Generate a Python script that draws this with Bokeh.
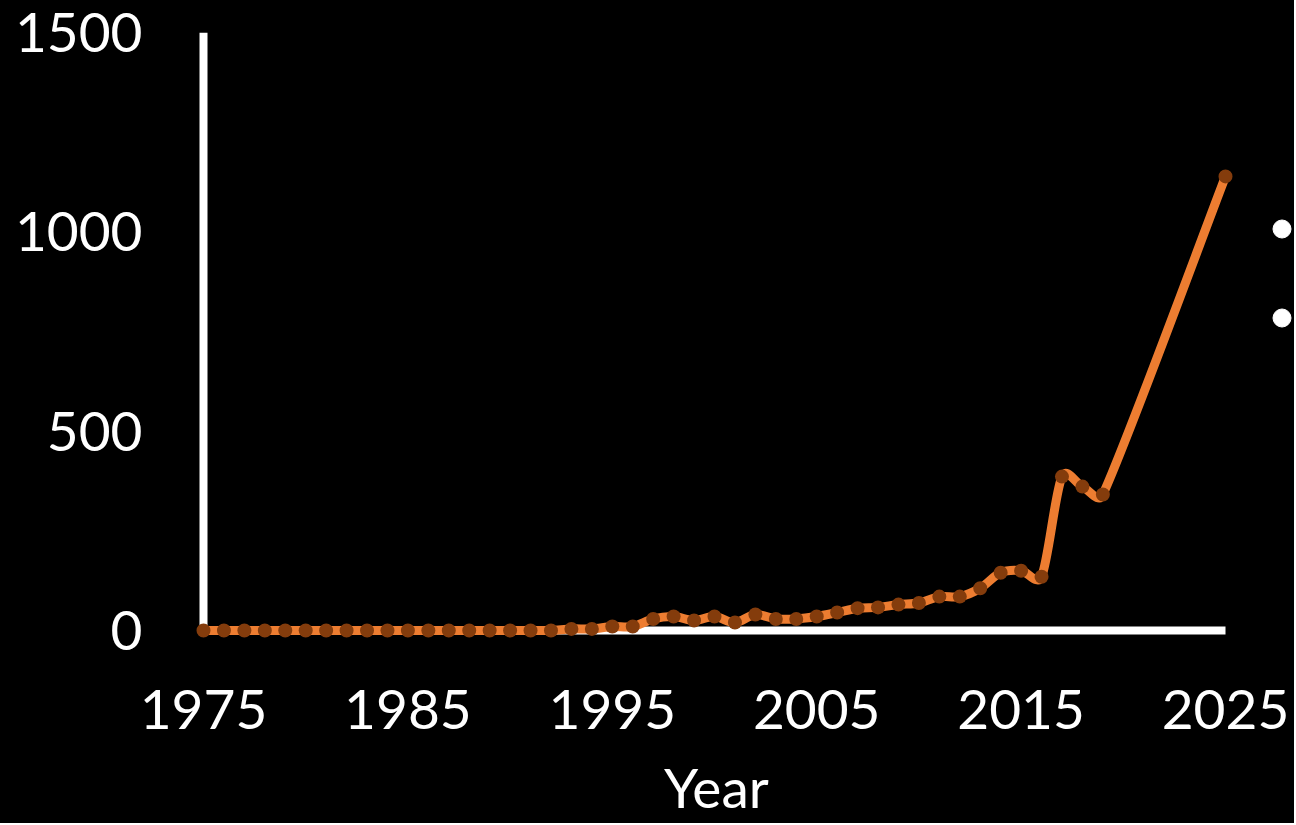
import numpy as np
from bokeh.plotting import figure
from bokeh.models import (Range1d, FixedTicker, Legend, LegendItem,
                          ColumnDataSource, LinearAxis)
from bokeh.embed import file_html
from bokeh.resources import INLINE

# ---- data ----
years = list(range(1975, 2020)) + [2025]
values = [0, 0, 0, 0, 0, 0, 0, 0, 0, 0,
          0, 0, 0, 0, 0, 0, 0, 0, 4, 4,
          10, 10, 29, 35, 25, 35, 20, 40, 29, 29,
          35, 45, 56, 58, 65, 69, 85, 85, 106, 145,
          150, 135, 386, 361, 341, 1139]
x_ticks = [1975, 1985, 1995, 2005, 2015, 2025]
y_ticks = [0, 500, 1000, 1500]
x_label = "Year"

# ---- geometry (canvas px) ----
W, H = 1294, 823
FL, FT = 193, 32          # frame left / top
FB = 642                  # frame bottom
AX_X = 203                # x pixel of first year (y axis position)
AX_X_END = 1225           # x pixel of last year
AX_Y = 630                # y pixel of value 0
PX = (AX_X_END - AX_X) / (x_ticks[-1] - x_ticks[0])      # px per year
PY = (AX_Y - FT) / (y_ticks[-1] - y_ticks[0])            # px per unit

x_range = Range1d(x_ticks[0] - (AX_X - FL) / PX, x_ticks[-1] + (W - AX_X_END) / PX)
y_range = Range1d(y_ticks[0] - (FB - AX_Y) / PY, y_ticks[-1])

p = figure(width=W, height=H, x_range=x_range, y_range=y_range,
           output_backend="svg", toolbar_location=None,
           min_border_left=FL, min_border_top=FT,
           min_border_right=0, min_border_bottom=H - FB)
p.title.visible = False
p.background_fill_color = None
p.border_fill_color = None
p.styles = {"background-color": "black"}
p.outline_line_color = None
p.grid.visible = False

FONT = "Lato"
FS = "55px"

# label axes (at frame edges, no line)
xa = p.xaxis[0]
xa.ticker = FixedTicker(ticks=x_ticks)
xa.axis_line_color = None
xa.major_tick_line_color = None
xa.minor_tick_line_color = None
xa.major_label_text_color = "white"
xa.major_label_text_font = FONT
xa.major_label_text_font_size = FS
xa.major_label_standoff = 41
# trailing no-break spaces centre the visible word over the plotted span
xa.axis_label = x_label + "\u00a0" * 4
xa.axis_label_text_color = "white"
xa.axis_label_text_font = FONT
xa.axis_label_text_font_size = FS
xa.axis_label_text_font_style = "normal"
xa.axis_label_standoff = 22

ya = p.yaxis[0]
ya.ticker = FixedTicker(ticks=y_ticks)
ya.axis_line_color = None
ya.major_tick_line_color = None
ya.minor_tick_line_color = None
ya.major_label_text_color = "white"
ya.major_label_text_font = FONT
ya.major_label_text_font_size = FS
ya.major_label_standoff = 45

# axis lines (fixed at the data origin, bounded to the tick span)
for loc, side, bnds in [(y_ticks[0], "below", (x_ticks[0], x_ticks[-1])),
                        (x_ticks[0], "left", (y_ticks[0], y_ticks[-1]))]:
    rule = LinearAxis(fixed_location=loc, bounds=bnds,
                      ticker=FixedTicker(ticks=[]),
                      axis_line_color="white", axis_line_width=8,
                      major_tick_line_color=None, minor_tick_line_color=None,
                      major_label_standoff=0, major_tick_out=0, minor_tick_out=0,
                      level="underlay")
    p.add_layout(rule, side)

# ---- smoothed line (Bezier segments through the data points) ----
X = np.array(years, float)
Y = np.array(values, float)
P = np.column_stack([X * PX, Y * PY])
n = len(P)
seg = {k: [] for k in ["x0", "y0", "x1", "y1", "cx0", "cy0", "cx1", "cy1"]}
for i in range(n - 1):
    p0 = P[max(i - 1, 0)]
    p1 = P[i]
    p2 = P[i + 1]
    p3 = P[min(i + 2, n - 1)]
    d12 = np.hypot(*(p2 - p1))
    d02 = np.hypot(*(p2 - p0))
    d13 = np.hypot(*(p3 - p1))
    f1 = min(1 / 6, 0.5 * d12 / d02) if d02 > 0 else 0
    f2 = min(1 / 6, 0.5 * d12 / d13) if d13 > 0 else 0
    c1 = p1 + (p2 - p0) * f1
    c2 = p2 - (p3 - p1) * f2
    seg["x0"].append(p1[0] / PX); seg["y0"].append(p1[1] / PY)
    seg["x1"].append(p2[0] / PX); seg["y1"].append(p2[1] / PY)
    seg["cx0"].append(c1[0] / PX); seg["cy0"].append(c1[1] / PY)
    seg["cx1"].append(c2[0] / PX); seg["cy1"].append(c2[1] / PY)

p.bezier(x0="x0", y0="y0", x1="x1", y1="y1", cx0="cx0", cy0="cy0",
         cx1="cx1", cy1="cy1", source=ColumnDataSource(seg),
         line_color="#ED7D31", line_width=9, line_cap="round")

p.scatter(years, values, size=14, fill_color="#843C0C",
          line_color="#843C0C", line_width=0)

# ---- legend (two white markers, no text) ----
r1 = p.scatter(years, values, size=18, fill_color="white", line_color="white", visible=False)
r2 = p.scatter(years, values, size=18, fill_color="white", line_color="white", visible=False)
legend = Legend(items=[LegendItem(label=" ", renderers=[r1]),
                       LegendItem(label=" ", renderers=[r2])],
                location=(1066, 302), orientation="vertical",
                glyph_width=45, glyph_height=45, spacing=44,
                padding=0, margin=0, label_standoff=0, label_width=0,
                label_height=0, label_text_font_size="1px",
                label_text_color="black", click_policy="none",
                inactive_fill_alpha=0,
                background_fill_alpha=0, border_line_alpha=0)
p.add_layout(legend, "center")

open("out.html", "w").write(file_html(p, INLINE))
